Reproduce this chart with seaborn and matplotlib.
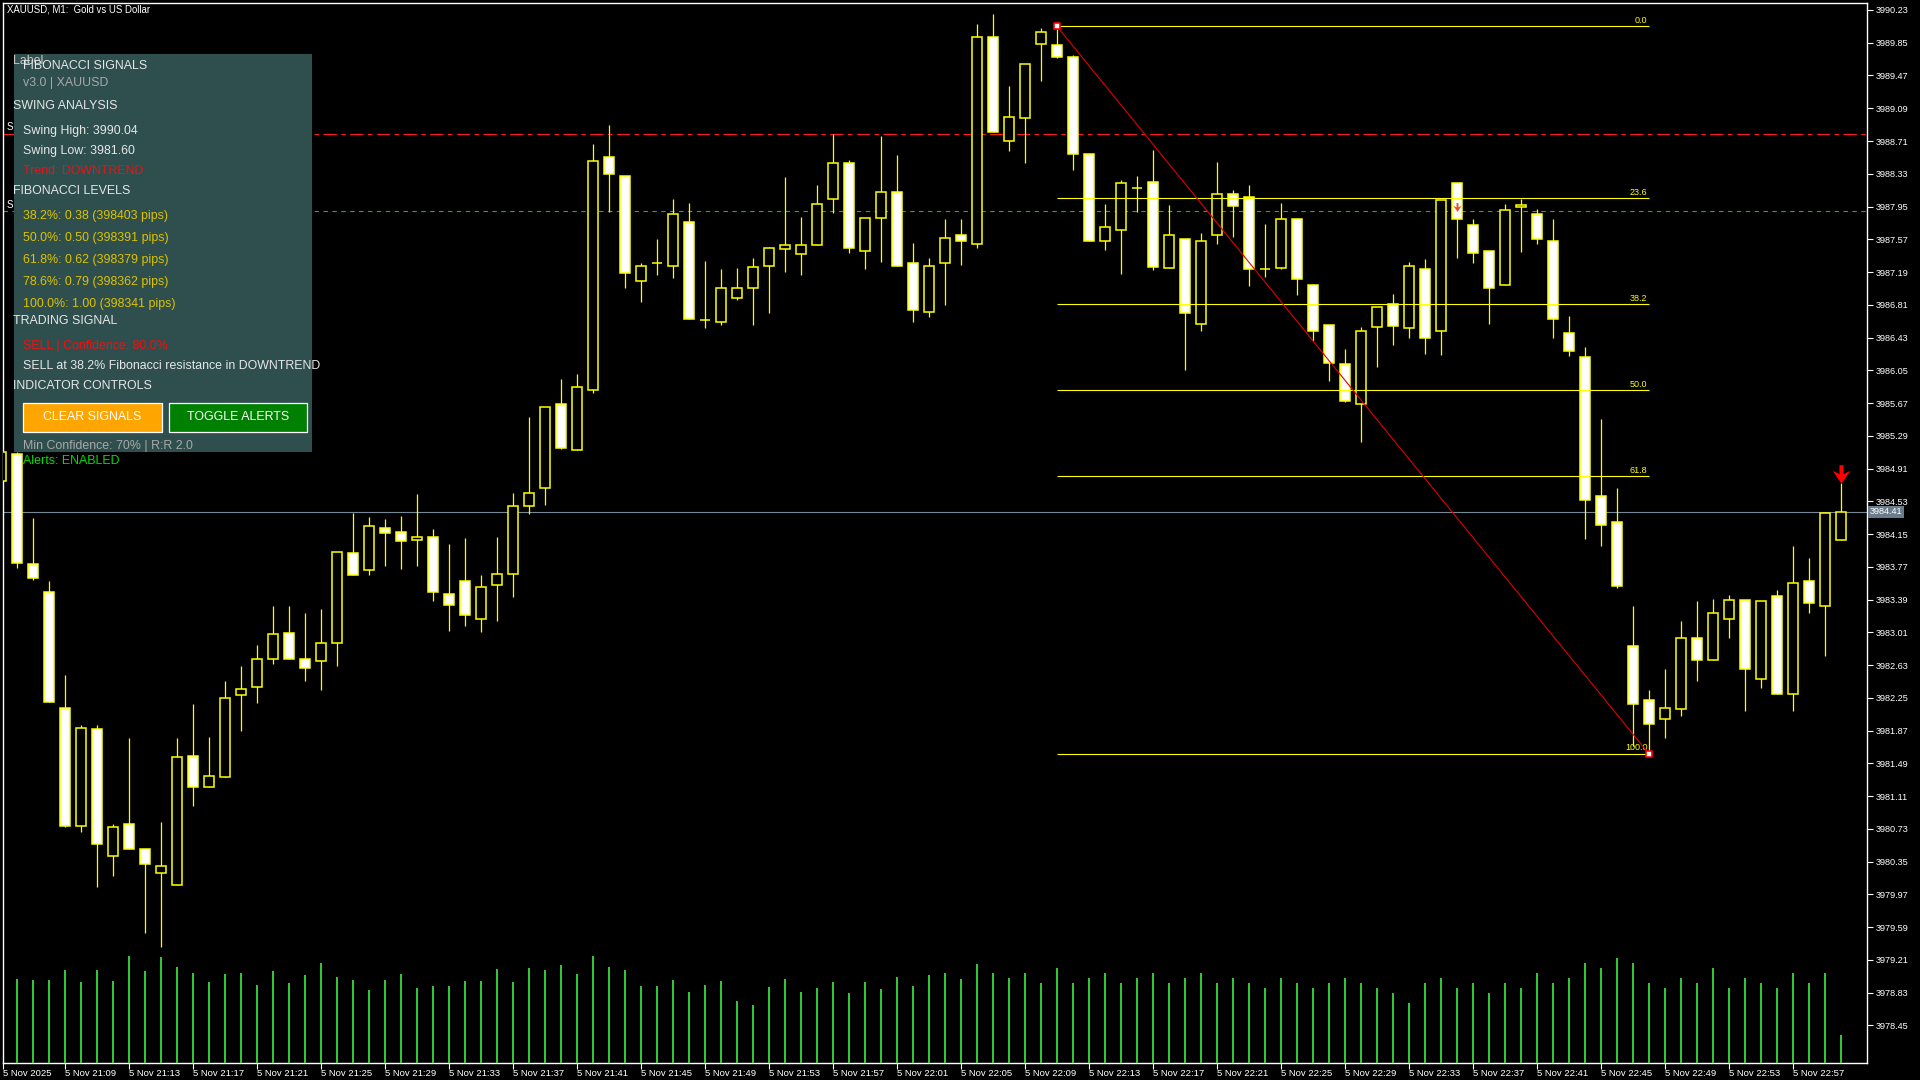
import numpy as np
import matplotlib
matplotlib.use('Agg')
import matplotlib.pyplot as plt
import matplotlib.transforms as mtransforms
from matplotlib.patches import Rectangle
import seaborn as sns

# M1 candles, first one (index -1) is the partly hidden bar at 21:05
opens = [3984.76, 3985.08, 3983.80, 3983.48, 3982.13, 3980.76, 3981.89, 3980.42, 3980.79, 3980.50,
         3980.22, 3980.08, 3981.57, 3981.22, 3981.33, 3982.28, 3982.38, 3982.70, 3983.00, 3982.70,
         3982.68, 3982.89, 3983.93, 3983.73, 3984.22, 3984.17, 3984.08, 3984.12, 3983.46, 3983.61,
         3983.16, 3983.56, 3983.69, 3984.48, 3984.68, 3985.66, 3985.13, 3985.82, 3988.52, 3988.30,
         3987.09, 3987.29, 3987.26, 3987.77, 3986.63, 3986.61, 3986.89, 3987.00, 3987.26, 3987.46,
         3987.40, 3987.50, 3988.04, 3988.46, 3987.43, 3987.82, 3988.12, 3987.30, 3986.73, 3987.29,
         3987.62, 3987.51, 3989.92, 3988.71, 3988.98, 3989.84, 3989.82, 3989.68, 3988.56, 3987.55,
         3987.68, 3988.17, 3988.24, 3987.24, 3987.57, 3986.59, 3987.62, 3988.09, 3988.06, 3987.23,
         3987.24, 3987.81, 3987.04, 3986.58, 3986.12, 3985.66, 3986.55, 3986.82, 3986.54, 3987.23,
         3986.51, 3988.22, 3987.74, 3987.43, 3987.04, 3987.94, 3987.86, 3987.55, 3986.48, 3986.21,
         3984.59, 3984.29, 3982.85, 3982.23, 3982.00, 3982.12, 3982.95, 3982.69, 3983.17, 3983.39,
         3982.47, 3983.43, 3982.30, 3983.60, 3983.31, 3984.08]
highs = [3985.10, 3985.10, 3984.34, 3983.61, 3982.51, 3981.94, 3981.94, 3980.79, 3981.78, 3980.50,
         3980.81, 3981.78, 3982.18, 3981.80, 3982.45, 3982.62, 3982.86, 3983.31, 3983.31, 3983.23,
         3983.28, 3983.94, 3984.40, 3984.35, 3984.32, 3984.36, 3984.61, 3984.21, 3984.03, 3984.11,
         3983.67, 3984.12, 3984.63, 3985.51, 3985.63, 3985.95, 3986.01, 3988.68, 3988.90, 3988.30,
         3987.30, 3987.57, 3988.04, 3987.99, 3987.32, 3987.23, 3987.24, 3987.35, 3987.48, 3988.29,
         3987.83, 3988.20, 3988.79, 3988.49, 3987.82, 3988.77, 3988.55, 3987.53, 3987.35, 3987.81,
         3987.81, 3990.07, 3990.18, 3989.35, 3989.60, 3990.02, 3990.04, 3989.71, 3988.56, 3987.98,
         3988.26, 3988.30, 3988.61, 3987.97, 3987.57, 3987.64, 3988.47, 3988.14, 3988.20, 3987.75,
         3987.99, 3987.82, 3987.05, 3986.58, 3986.30, 3986.55, 3986.79, 3986.94, 3987.31, 3987.34,
         3988.03, 3988.22, 3987.81, 3987.43, 3987.98, 3988.04, 3987.92, 3987.81, 3986.68, 3986.32,
         3985.49, 3984.69, 3983.32, 3982.34, 3982.59, 3983.14, 3983.37, 3983.40, 3983.44, 3983.39,
         3983.37, 3983.50, 3984.01, 3983.87, 3984.41, 3984.74]
lows = [3984.76, 3983.76, 3983.62, 3982.20, 3980.75, 3980.69, 3980.05, 3980.18, 3980.50, 3979.52,
        3979.36, 3980.08, 3980.99, 3981.22, 3981.33, 3981.86, 3982.19, 3982.64, 3982.70, 3982.44,
        3982.34, 3982.62, 3983.68, 3983.68, 3983.78, 3983.74, 3983.78, 3983.37, 3983.03, 3983.08,
        3983.01, 3983.14, 3983.42, 3984.38, 3984.49, 3985.14, 3985.13, 3985.79, 3987.89, 3987.00,
        3986.84, 3987.16, 3987.12, 3986.65, 3986.54, 3986.58, 3986.87, 3986.58, 3986.72, 3987.19,
        3987.15, 3987.50, 3987.88, 3987.41, 3987.22, 3987.31, 3987.26, 3986.61, 3986.67, 3986.81,
        3987.27, 3987.47, 3988.82, 3988.59, 3988.45, 3989.41, 3989.67, 3988.37, 3987.55, 3987.45,
        3987.17, 3987.89, 3987.21, 3987.24, 3986.05, 3986.51, 3987.52, 3987.60, 3987.03, 3987.13,
        3987.23, 3986.92, 3986.39, 3985.93, 3985.68, 3985.22, 3986.09, 3986.34, 3986.43, 3986.24,
        3986.23, 3987.35, 3987.29, 3986.59, 3987.04, 3987.42, 3987.52, 3986.42, 3986.22, 3984.09,
        3984.01, 3983.53, 3981.69, 3981.60, 3981.79, 3982.04, 3982.44, 3982.69, 3982.95, 3982.10,
        3982.36, 3982.29, 3982.10, 3983.23, 3982.73, 3984.08]
closes = [3985.10, 3983.81, 3983.64, 3982.20, 3980.76, 3981.90, 3980.55, 3980.75, 3980.50, 3980.32,
          3980.30, 3981.56, 3981.22, 3981.34, 3982.25, 3982.35, 3982.70, 3982.99, 3982.70, 3982.60,
          3982.89, 3983.94, 3983.68, 3984.24, 3984.16, 3984.07, 3984.12, 3983.48, 3983.33, 3983.21,
          3983.54, 3983.69, 3984.48, 3984.63, 3985.62, 3985.15, 3985.86, 3988.48, 3988.33, 3987.18,
          3987.26, 3987.29, 3987.86, 3986.65, 3986.63, 3987.01, 3987.00, 3987.25, 3987.47, 3987.50,
          3987.50, 3987.98, 3988.46, 3987.47, 3987.82, 3988.12, 3987.26, 3986.75, 3987.26, 3987.58,
          3987.55, 3989.92, 3988.82, 3988.99, 3989.60, 3989.98, 3989.69, 3988.56, 3987.55, 3987.71,
          3988.22, 3988.17, 3987.25, 3987.62, 3986.71, 3987.55, 3988.10, 3987.96, 3987.23, 3987.23,
          3987.81, 3987.11, 3986.51, 3986.14, 3985.69, 3986.51, 3986.79, 3986.56, 3987.26, 3986.43,
          3988.03, 3987.80, 3987.41, 3987.01, 3987.91, 3987.97, 3987.57, 3986.64, 3986.27, 3984.55,
          3984.26, 3983.55, 3982.18, 3981.95, 3982.13, 3982.95, 3982.69, 3983.23, 3983.38, 3982.59,
          3983.37, 3982.30, 3983.58, 3983.35, 3984.40, 3984.41]
# tick volumes from 21:06 on (the 21:05 bar is off the chart edge)
volumes = [84, 83, 83, 93, 81, 93, 82, 107, 92, 106, 96, 90, 81, 89, 90, 78, 92, 80, 88, 100,
           86, 83, 73, 83, 89, 75, 77, 77, 82, 82, 94, 81, 95, 93, 98, 89, 107, 96, 93, 77,
           77, 83, 71, 78, 82, 62, 58, 76, 84, 71, 75, 81, 70, 81, 74, 86, 77, 88, 90, 84,
           99, 90, 85, 90, 80, 95, 80, 85, 90, 80, 85, 90, 80, 85, 90, 80, 85, 80, 75, 85,
           80, 75, 80, 85, 80, 75, 70, 60, 80, 85, 75, 80, 70, 80, 75, 90, 80, 85, 100, 95,
           105, 100, 80, 75, 85, 80, 95, 75, 85, 80, 75, 90, 80, 90, 28]

time_labels = ['5 Nov 2025', '5 Nov 21:09', '5 Nov 21:13', '5 Nov 21:17', '5 Nov 21:21', '5 Nov 21:25',
               '5 Nov 21:29', '5 Nov 21:33', '5 Nov 21:37', '5 Nov 21:41', '5 Nov 21:45', '5 Nov 21:49',
               '5 Nov 21:53', '5 Nov 21:57', '5 Nov 22:01', '5 Nov 22:05', '5 Nov 22:09', '5 Nov 22:13',
               '5 Nov 22:17', '5 Nov 22:21', '5 Nov 22:25', '5 Nov 22:29', '5 Nov 22:33', '5 Nov 22:37',
               '5 Nov 22:41', '5 Nov 22:45', '5 Nov 22:49', '5 Nov 22:53', '5 Nov 22:57']
price_ticks = [3978.45, 3978.83, 3979.21, 3979.59, 3979.97, 3980.35, 3980.73, 3981.11, 3981.49,
               3981.87, 3982.25, 3982.63, 3983.01, 3983.39, 3983.77, 3984.15, 3984.53, 3984.91,
               3985.29, 3985.67, 3986.05, 3986.43, 3986.81, 3987.19, 3987.57, 3987.95, 3988.33,
               3988.71, 3989.09, 3989.47, 3989.85, 3990.23]

swing_high = 3990.04
swing_low = 3981.60
swing_high_bar = 65
swing_low_bar = 102
fib_levels = [0.0, 23.6, 38.2, 50.0, 61.8, 100.0]
resistance_line = 3988.79
support_line = 3987.90
bid = 3984.41
signal_bar = 114
minor_signal_bar = 90
minor_signal_price = 3987.95

# ---- style ----
sns.set_theme(style='dark', rc={'axes.facecolor': 'black', 'figure.facecolor': 'black',
                                'axes.edgecolor': 'white', 'axes.grid': False})
plt.rcParams['font.family'] = ['Liberation Sans', 'DejaVu Sans']

W, H = 1920, 1080
def fx(px):
    return px / W
def fy(py):
    return 1 - py / H

YEL = '#FFFF00'
fig = plt.figure(figsize=(19.2, 10.8), dpi=100)
pos = [fx(3), fy(1063), (1867 - 3) / W, (1063 - 3) / H]
ax = fig.add_axes(pos)
ax.set_facecolor('black')

x = np.arange(-1, len(opens) - 1)
o = np.array(opens); c = np.array(closes); hi = np.array(highs); lo = np.array(lows)
bull = c >= o

# wicks then bodies
ax.vlines(x, lo, hi, color=YEL, lw=0.9, zorder=2)
ax.bar(x, np.abs(c - o), bottom=np.minimum(o, c), width=0.68,
       color=np.where(bull, 'black', 'white'), edgecolor=YEL, linewidth=1.1, zorder=3)

# horizontal levels
ax.axhline(resistance_line, color='#FF1A1A', lw=0.8, dashes=(12, 4, 4, 4), zorder=1)
ax.axhline(support_line, color='#22B022', lw=0.8, dashes=(4, 4), zorder=1)
ax.axhline(bid, color='#778899', lw=0.8, zorder=1)

# fibonacci retracement
rng = swing_high - swing_low
for lv in fib_levels:
    p = swing_high - rng * lv / 100
    ax.hlines(p, swing_high_bar, swing_low_bar, color=YEL, lw=0.8, zorder=4)
    ax.annotate(f'{lv:.1f}', xy=(swing_low_bar, p), xytext=(-1, 1), textcoords='offset points',
                ha='right', va='bottom', color=YEL, fontsize=6.5, zorder=5)
ax.plot([swing_high_bar, swing_low_bar], [swing_high, swing_low], color='#E00000', lw=0.8, zorder=5)
ax.scatter([swing_high_bar, swing_low_bar], [swing_high, swing_low], marker='s', s=14,
           facecolor='white', edgecolor='red', linewidths=1.2, zorder=6)

# sell arrow above the last bar (heavy down arrow with notched head)
arrow_marker = [(-0.11, 0.5), (0.11, 0.5), (0.11, 0.02), (0.47, 0.2), (0.0, -0.5),
                (-0.47, 0.2), (-0.11, 0.02)]
tip = highs[signal_bar + 1]
ax.scatter([signal_bar], [tip + 9.5 / 86.2], marker=arrow_marker, s=180, color='#FF0000',
           linewidths=0, zorder=6)
ax.scatter([minor_signal_bar], [minor_signal_price], marker=arrow_marker, s=40, color='#E8501E',
           linewidths=0, zorder=6)

ax.set_xlim(-0.875, 115.625)
ax.set_ylim(3978.014, 3990.311)

# axes/ticks
ax.yaxis.tick_right()
ax.set_yticks(price_ticks)
ax.set_yticklabels([f'{p:.2f}' for p in price_ticks])
ax.tick_params(axis='y', colors='white', labelcolor='white', length=4, width=0.8,
               labelsize=6.6, pad=2, direction='out', right=True, left=False)
xt = [-0.85] + [3 + 4 * k for k in range(len(time_labels) - 1)]
ax.set_xticks(xt)
ax.set_xticklabels(time_labels)
ax.tick_params(axis='x', colors='white', labelcolor='white', length=4, width=0.8,
               labelsize=6.8, pad=0, direction='out', bottom=True)
for lbl in ax.get_xticklabels():
    lbl.set_horizontalalignment('left')
for s in ax.spines.values():
    s.set_color('white'); s.set_linewidth(1.0)

# current price tag on the scale
trans = mtransforms.blended_transform_factory(ax.transAxes, ax.transData)
ax.text(1.0015, bid, f'{bid:.2f}', transform=trans, ha='left', va='center', color='white',
        fontsize=6.6, clip_on=False, zorder=7,
        bbox=dict(boxstyle='square,pad=0.18', fc='#6A7B8C', ec='none'))

# volume histogram at the bottom
axv = fig.add_axes(pos, sharex=ax)
axv.patch.set_visible(False)
axv.set_ylim(0, 1060)
axv.vlines(x[1:], 0, volumes, color='#32CD32', lw=1.4)
axv.set_axis_off()

# chart title
fig.text(fx(7), fy(9), 'XAUUSD, M1:  Gold vs US Dollar', color='white', fontsize=6.9,
         va='center', ha='left', zorder=8)
fig.text(fx(7), fy(127), 'S', color='white', fontsize=7, va='center', zorder=4)
fig.text(fx(7), fy(205), 'S', color='white', fontsize=7, va='center', zorder=4)

# info panel
fig.add_artist(Rectangle((fx(13.7), fy(452)), (312 - 13.7) / W, (452 - 54) / H,
                         transform=fig.transFigure, facecolor='#2F4F4F', edgecolor='none', zorder=5))
WH = '#E6E6E6'
GLD = '#DCC200'
RED = '#F01010'
panel_lines = [
    (13, 61, 'Label', '#C8C8C8'),
    (23, 66, 'FIBONACCI SIGNALS', WH),
    (23, 83, 'v3.0 | XAUUSD', '#A8A8A8'),
    (13, 106, 'SWING ANALYSIS', WH),
    (23, 131, f'Swing High: {swing_high:.2f}', WH),
    (23, 151, f'Swing Low: {swing_low:.2f}', WH),
    (23, 171, 'Trend: DOWNTREND', RED),
    (13, 191, 'FIBONACCI LEVELS', WH),
    (23, 216, '38.2%: 0.38 (398403 pips)', GLD),
    (23, 238, '50.0%: 0.50 (398391 pips)', GLD),
    (23, 260, '61.8%: 0.62 (398379 pips)', GLD),
    (23, 282, '78.6%: 0.79 (398362 pips)', GLD),
    (23, 304, '100.0%: 1.00 (398341 pips)', GLD),
    (13, 321, 'TRADING SIGNAL', WH),
    (23, 346, 'SELL | Confidence: 80.0%', RED),
    (23, 366, 'SELL at 38.2% Fibonacci resistance in DOWNTREND', WH),
    (13, 386, 'INDICATOR CONTROLS', WH),
    (23, 446, 'Min Confidence: 70% | R:R 2.0', '#A8A8A8'),
    (23, 461, 'Alerts: ENABLED', '#00E000'),
]
for px, py, txt, col in panel_lines:
    fig.text(fx(px), fy(py), txt, color=col, fontsize=8.9, va='center', ha='left', zorder=7)

for x0, x1, txt, col in [(23, 162, 'CLEAR SIGNALS', '#FFA500'), (169, 307, 'TOGGLE ALERTS', '#008000')]:
    fig.add_artist(Rectangle((fx(x0), fy(432)), (x1 - x0) / W, (432 - 403) / H,
                             transform=fig.transFigure, facecolor=col, edgecolor='white',
                             lw=0.9, zorder=6))
    fig.text(fx((x0 + x1) / 2), fy(417.5), txt, color='white', fontsize=8.9,
             ha='center', va='center', zorder=7)

fig.savefig('out.png', dpi=100, facecolor='black')
